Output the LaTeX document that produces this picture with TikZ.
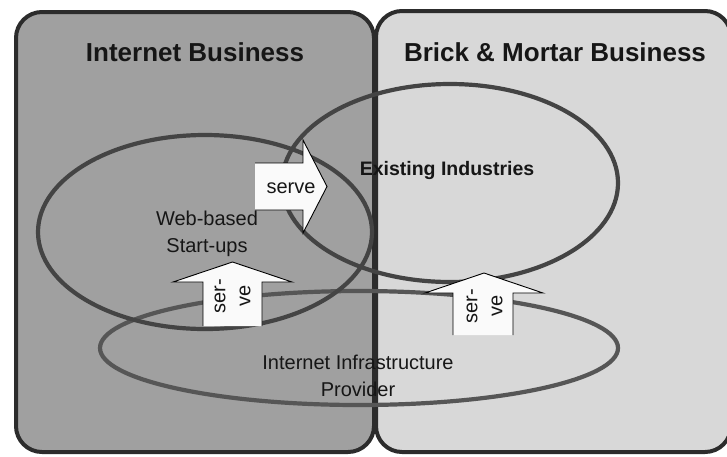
\documentclass[tikz,border=0pt]{standalone}
\usepackage{fontspec}
\setmainfont{Liberation Sans}
\definecolor{boxline}{HTML}{2C2C2C}
\definecolor{leftfill}{HTML}{A0A0A0}
\definecolor{rightfill}{HTML}{D8D8D8}
\definecolor{ellline}{HTML}{444444}
\definecolor{infraline}{HTML}{565656}
\definecolor{txt}{HTML}{161616}
\begin{document}
\begin{tikzpicture}[x=1pt,y=-1pt,
  bizbox/.style={draw=boxline,line width=4pt,rounded corners=26pt},
  ell/.style={draw=ellline,line width=4.2pt},
  infra/.style={draw=infraline,line width=4.2pt},
  arrowfill/.style={fill=white!96!gray,draw=none},
  arrowline/.style={draw=black,line width=0.9pt,line join=miter},
  title/.style={text=txt,font=\fontsize{26}{30}\selectfont\bfseries,inner sep=0pt},
  subtitle/.style={text=txt,font=\fontsize{19.5}{23}\selectfont\bfseries,inner sep=0pt},
  label/.style={text=txt,font=\fontsize{20}{27}\selectfont,inner sep=0pt,align=center},
  vlabel/.style={text=txt,font=\fontsize{20}{25}\selectfont,inner sep=0pt,align=center,rotate=90}
]
\useasboundingbox (0,0) rectangle (727,456);
\clip (0,0) rectangle (727,456);
\fill[white] (0,0) rectangle (727,456);

% business areas
\draw[bizbox,fill=leftfill] (16,12) rectangle (374,452);
\draw[bizbox,fill=rightfill] (376,11) rectangle (731,452);

% ellipses
\draw[infra] (359,348) ellipse [x radius=259, y radius=57];
\draw[ell] (205,232) ellipse [x radius=167, y radius=97];
\draw[ell] (450,183) ellipse [x radius=168, y radius=99];

% serve arrow (right)
\fill[arrowfill] (255,163) -- (303,163) -- (303,140) -- (327,186.5) -- (303,233) -- (303,210) -- (255,210) -- cycle;
\draw[arrowline] (255,163) -- (303,163) -- (303,140) -- (327,186.5) -- (303,233) -- (303,210) -- (255,210);

% left up arrow
\fill[arrowfill] (203,326) -- (203,282) -- (173,282) -- (232.5,262) -- (292,282) -- (262,282) -- (262,326) -- cycle;
\draw[arrowline] (203,326) -- (203,282) -- (173,282) -- (232.5,262) -- (292,282) -- (262,282) -- (262,326);

% right up arrow
\fill[arrowfill] (453,335) -- (453,293) -- (425,293) -- (484,273) -- (543,293) -- (513,293) -- (513,335) -- cycle;
\draw[arrowline] (453,335) -- (453,293) -- (425,293) -- (484,273) -- (543,293) -- (513,293) -- (513,335);

% texts
\node[title] (ib) at (195,52) {Internet Business};
\node[title] (bm) at (555,52) {Brick \& Mortar Business};
\node[subtitle] (ei) at (447,170) {Existing Industries};
\node[label] (ws) at (207,234) {Web-based\\Start-ups};
\node[label] (ip) at (358,376) {Internet Infrastructure\\Provider};
\node[label] (sv) at (291,188) {serve};
\node[vlabel] (sv1) at (232.5,296) {ser-\\ve};
\node[vlabel] (sv2) at (484.5,306) {ser-\\ve};
\end{tikzpicture}
\end{document}
